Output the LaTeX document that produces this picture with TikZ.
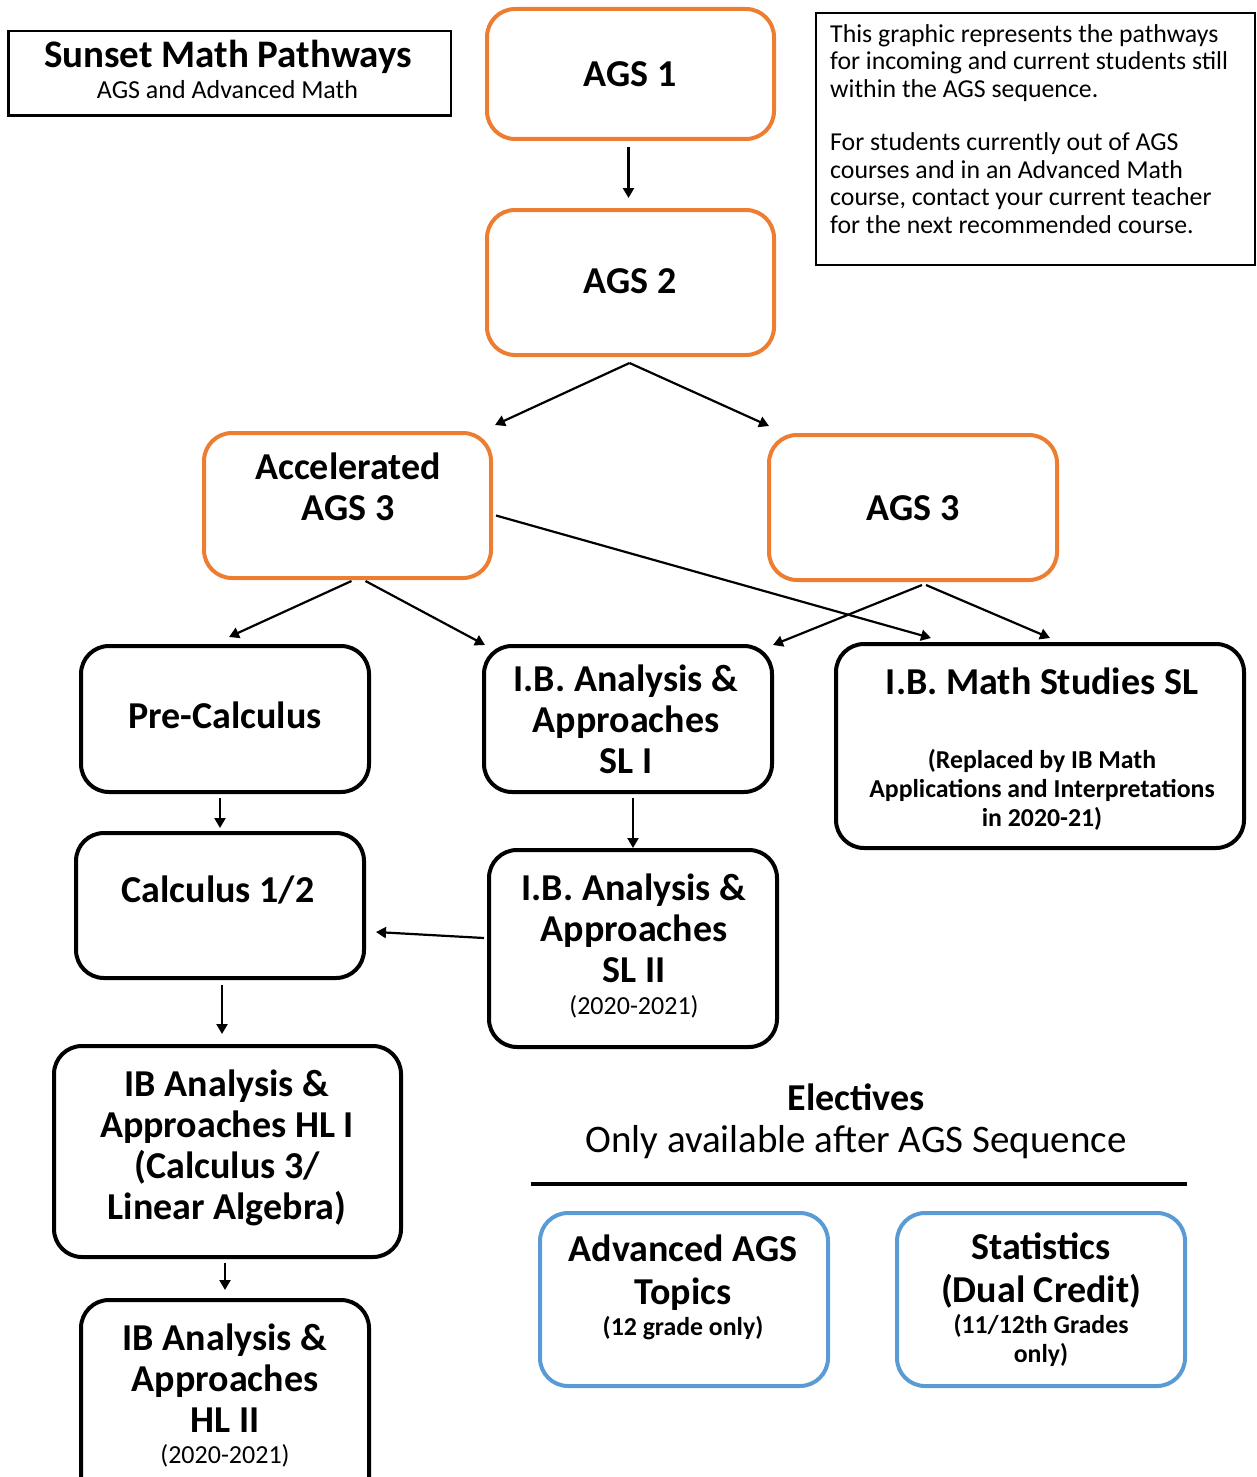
\documentclass[tikz,border=0pt]{standalone}
\usepackage{fontspec}
\setmainfont{Carlito}
\usetikzlibrary{arrows.meta}
\definecolor{ogc}{HTML}{ED7D31}
\definecolor{blc}{HTML}{5B9BD5}
\tikzset{
  obox/.style={draw=ogc, line width=4pt, rounded corners=28pt},
  kbox/.style={draw=black, line width=4pt, rounded corners=28pt},
  bbox/.style={draw=blc, line width=4pt, rounded corners=28pt},
  big/.style={font=\fontsize{38}{41}\selectfont\bfseries, align=center, inner sep=0pt, anchor=base},
  smallb/.style={font=\fontsize{25.8}{29}\selectfont\bfseries, align=center, inner sep=0pt, anchor=base},
  smallr/.style={font=\fontsize{26}{27.5}\selectfont, align=center, inner sep=0pt, anchor=base},
  arr/.style={draw=black, line width=2.2pt, -{Triangle[length=10pt,width=11pt]}}
}
\begin{document}
\begin{tikzpicture}[x=1pt,y=-1pt]
\useasboundingbox (0,0) rectangle (1257,1477);
\clip (0,0) rectangle (1257,1477);
% boxes
\node[draw=black, line width=2.5pt, minimum width=442.5pt, minimum height=84.5pt, inner sep=0pt] (title) at (229.5,73.5) {};
\node[draw=black, line width=2pt, minimum width=439pt, minimum height=252pt, inner sep=0pt] (info) at (1035.5,139) {};
\node[obox, minimum width=287pt, minimum height=130pt] (ags1) at (630.5,74) {};
\node[obox, minimum width=287pt, minimum height=145pt] (ags2) at (630.5,282.5) {};
\node[obox, minimum width=287pt, minimum height=145pt] (acc) at (347.5,505.5) {};
\node[obox, minimum width=288pt, minimum height=145pt] (ags3) at (913,507.5) {};
\node[kbox, minimum width=288pt, minimum height=146pt] (pre) at (225,719) {};
\node[kbox, minimum width=288pt, minimum height=146pt] (sl1) at (628,719) {};
\node[kbox, minimum width=408pt, minimum height=204pt] (ms) at (1040,746) {};
\node[kbox, minimum width=288pt, minimum height=145pt] (calc) at (220,905.5) {};
\node[kbox, minimum width=288pt, minimum height=197pt] (sl2) at (633,948.5) {};
\node[kbox, minimum width=347pt, minimum height=211pt] (hl1) at (227.5,1151.5) {};
\node[kbox, minimum width=288pt, minimum height=208pt] (hl2) at (225,1404) {};
\node[bbox, minimum width=288pt, minimum height=173pt] (adv) at (684,1299.5) {};
\node[bbox, minimum width=288pt, minimum height=173pt] (stat) at (1041,1299.5) {};
% texts (anchor=base is the baseline of the last line)
\node[font=\fontsize{39}{41}\selectfont\bfseries, inner sep=0pt, anchor=base] (titlet) at (228,68) {Sunset Math Pathways};
\node[smallr] (titles) at (227.5,99) {AGS and Advanced Math};
\node[font=\fontsize{25.8}{27.5}\selectfont, align=left, inner sep=0pt, anchor=base west] (infot) at (830,233)
 {This graphic represents the pathways\\for incoming and current students still\\within the AGS sequence.\\[26pt]For students currently out of AGS\\courses and in an Advanced Math\\course, contact your current teacher\\for the next recommended course.};
\node[big] (ags1t) at (630,87) {AGS 1};
\node[big] (ags2t) at (630,293) {AGS 2};
\node[big] (acct) at (348,520) {Accelerated\\AGS 3};
\node[big] (ags3t) at (913,520) {AGS 3};
\node[big] (pret) at (225,728) {Pre-Calculus};
\node[big] (sl1t) at (626,773) {I.B. Analysis \&\\Approaches\\SL I};
\node[big] (mst) at (1042,694) {I.B. Math Studies SL};
\node[smallb] (mss) at (1042,826) {(Replaced by IB Math\\Applications and Interpretations\\in 2020-21)};
\node[big] (calct) at (218,902) {Calculus 1/2};
\node[big] (sl2t) at (634,982) {I.B. Analysis \&\\Approaches\\SL II};
\node[smallr] (sl2d) at (634,1014) {(2020-2021)};
\node[big] (hl1t) at (227,1219) {IB Analysis \&\\Approaches HL I\\(Calculus 3/\\Linear Algebra)};
\node[big] (hl2t) at (225,1432) {IB Analysis \&\\Approaches\\HL II};
\node[smallr] (hl2d) at (225,1463) {(2020-2021)};
\node[big] (elt) at (856,1110) {Electives};
\node[font=\fontsize{39}{41}\selectfont, inner sep=0pt, anchor=base] (els) at (856,1152) {Only available after AGS Sequence};
\node[big] (advt) at (683,1304) {Advanced AGS\\[2pt]Topics};
\node[smallb] (advs) at (683,1335) {(12 grade only)};
\node[big] (statt) at (1041,1302) {Statistics\\[2pt](Dual Credit)};
\node[smallb] (stats) at (1041,1362) {(11/12th Grades\\only)};
% electives rule
\coordinate (rl) at (531,1184);
\coordinate (rr) at (1187,1184);
\draw[line width=4pt] (rl) -- (rr);
% arrows
\draw[arr] ([xshift=-2pt,yshift=-6pt]ags1.south) -- ([xshift=-2pt,yshift=10pt]ags2.north);
\draw[arr] ([xshift=-1pt,yshift=-6pt]ags2.south) -- ([xshift=2pt,yshift=6pt]acc.north east);
\draw[arr] ([xshift=-1pt,yshift=-6pt]ags2.south) -- ([xshift=2pt,yshift=7pt]ags3.north west);
\draw[arr] ([xshift=4pt,yshift=-1pt]acc.south) -- ([xshift=4pt,yshift=7pt]pre.north);
\draw[arr] ([xshift=18pt,yshift=-1pt]acc.south) -- ([xshift=3pt,yshift=-1pt]sl1.north west);
\draw[arr] ([xshift=3pt,yshift=-10pt]acc.east) -- ([xshift=-109pt,yshift=4pt]ms.north);
\draw[arr] ([xshift=9pt,yshift=-3pt]ags3.south) -- ([xshift=-1pt,yshift=-1pt]sl1.north east);
\draw[arr] ([xshift=13pt,yshift=-3pt]ags3.south) -- ([xshift=10pt,yshift=4pt]ms.north);
\draw[arr] ([xshift=-5pt,yshift=-4pt]pre.south) -- ([yshift=3pt]calc.north);
\draw[arr] ([xshift=5pt,yshift=-4pt]sl1.south) -- (sl2.north);
\draw[arr] ([xshift=-3pt,yshift=10.5pt]sl2.west) -- ([xshift=10pt,yshift=-26.5pt]calc.east);
\draw[arr] ([xshift=2pt,yshift=-5pt]calc.south) -- ([xshift=-5.5pt,yshift=10pt]hl1.north);
\draw[arr] ([xshift=-2.5pt,yshift=-4pt]hl1.south) -- ([yshift=8pt]hl2.north);
\end{tikzpicture}
\end{document}
